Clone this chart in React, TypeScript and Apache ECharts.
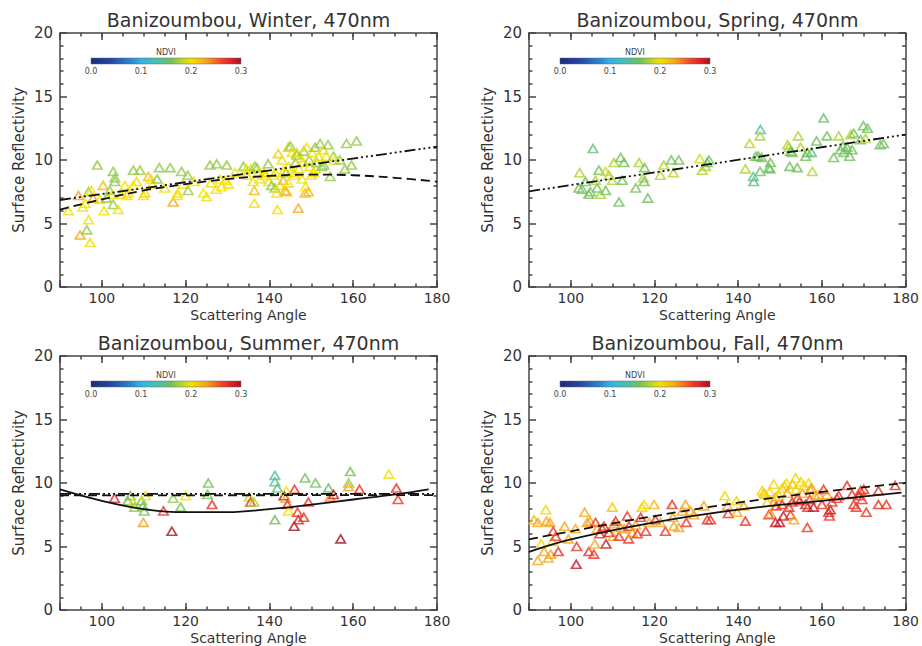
import React, { useEffect, useRef } from 'react';
import * as echarts from 'echarts';

type P = [number, number, number]; // [scattering angle, surface reflectivity, NDVI]
type XY = [number, number];

const seasons = ['Winter', 'Spring', 'Summer', 'Fall'];
const ndviTicks = [0.0, 0.1, 0.2, 0.3];
const xTickStep = 20;

const winterPts: P[] = [
  [92, 6.0, .2], [94.4, 7.2, .23], [94.8, 4.1, .23], [95.4, 6.3, .2], [96.4, 4.5, .17], [96.8, 5.3, .2], [97.2, 3.5, .2],
  [96.8, 7.5, .17], [97.5, 7.6, .2], [97.9, 7.0, .23], [96, 6.6, .2], [98.9, 9.6, .17], [99.5, 6.9, .2], [100.3, 8.0, .22],
  [100.5, 6.0, .2], [101.1, 7.0, .17], [101.9, 7.6, .17], [102.5, 7.3, .2], [102.7, 9.1, .17], [103.1, 8.6, .17], [103.1, 8.3, .17],
  [102.7, 6.5, .17], [103.9, 6.1, .2], [104.7, 7.3, .2], [105.5, 8.0, .2], [105.9, 7.2, .2], [106.3, 7.4, .2], [107.5, 9.2, .17],
  [107.5, 8.0, .2], [108.3, 8.3, .2], [109.1, 9.2, .17], [109.9, 7.2, .2], [110.3, 7.4, .21], [111.1, 8.7, .22], [111.7, 8.5, .2],
  [112, 8.1, .2], [113.2, 8.5, .17], [113.7, 9.4, .17], [115, 7.8, .2], [116.3, 9.4, .17], [117, 6.7, .23], [118.1, 7.4, .2],
  [118, 7.2, .2], [119, 9.1, .17], [119.3, 8.1, .2], [120.5, 8.8, .17], [120.6, 7.6, .17], [122, 8.3, .2], [124.2, 7.4, .2],
  [125, 7.1, .2], [125.8, 9.6, .17], [126, 8.2, .2], [127.3, 7.7, .2], [127.4, 9.7, .17], [128.2, 8.5, .2], [128.5, 7.9, .2],
  [129.5, 8.4, .2], [129.8, 9.6, .17], [130.2, 8.1, .2], [131.8, 9.0, .2], [133.8, 9.5, .17], [134.5, 9.3, .2], [134.6, 8.8, .2],
  [135.5, 9.3, .2], [136.1, 8.3, .2], [136.4, 7.6, .22], [136.4, 6.6, .2], [136.5, 9.5, .17], [137, 9.4, .17], [137.5, 9.1, .2],
  [137.8, 8.5, .2], [138.6, 9.0, .2], [138.9, 9.0, .2], [139, 8.8, .2], [139.7, 9.7, .17], [139.8, 8.3, .2], [140.5, 8.0, .17],
  [141, 8.8, .2], [141.3, 7.8, .17], [141.4, 9.0, .2], [141.7, 7.4, .2], [141.9, 6.1, .2], [142.1, 10.5, .21], [142.5, 8.0, .2],
  [143, 10.0, .2], [143.3, 8.4, .22], [143.5, 9.2, .2], [143.7, 7.6, .22], [144, 9.0, .17], [144.1, 7.5, .22], [144.5, 8.2, .2],
  [144.5, 11.0, .19], [144.6, 9.5, .2], [145, 11.1, .17], [145.4, 10.6, .2], [145.8, 9.0, .2], [146, 8.8, .2], [146.2, 9.8, .17],
  [146.5, 10.6, .2], [146.5, 10.4, .17], [146.9, 6.2, .23], [147, 9.3, .2], [147.4, 10.2, .2], [147.8, 8.5, .2], [148, 9.8, .2],
  [148.2, 10.7, .17], [148.5, 7.4, .22], [148.6, 7.9, .2], [148.9, 11.0, .2], [149.3, 7.5, .22], [149.5, 10.0, .17], [149.6, 9.5, .2],
  [150, 8.8, .2], [150.2, 10.6, .2], [150.6, 9.0, .2], [150.9, 11.0, .17], [151, 9.3, .2], [151.3, 9.8, .17], [151.7, 10.3, .2],
  [152.1, 11.3, .17], [152.5, 9.5, .17], [152.9, 10.8, .2], [153, 9.6, .17], [153.5, 10.3, .2], [154, 11.2, .17], [154.5, 8.7, .17],
  [155.3, 10.3, .17], [155.6, 10.0, .2], [156.8, 10.0, .17], [158, 9.3, .17], [158.4, 11.3, .17], [159.6, 9.6, .17], [160.8, 11.5, .17],
];

const springPts: P[] = [
  [102.1, 9.0, .18], [101.9, 7.8, .16], [102.7, 7.7, .16], [103.5, 8.3, .16], [104.3, 7.3, .16], [104.7, 7.5, .16], [105.3, 10.9, .15],
  [105.9, 8.4, .18], [106.3, 7.8, .16], [106.7, 9.2, .16], [107.1, 7.3, .18], [108.3, 9.1, .19], [108.3, 7.6, .16], [109.1, 8.8, .18],
  [109.9, 8.4, .18], [110.3, 9.8, .18], [111.5, 6.7, .16], [111.9, 10.2, .16], [112.3, 8.4, .16], [112.7, 9.8, .16], [115.5, 7.8, .16],
  [116.3, 9.8, .18], [117.3, 8.6, .18], [117.6, 9.4, .16], [117.5, 8.3, .16], [118.4, 7.0, .16], [121.4, 8.8, .18], [122.2, 9.6, .18],
  [124, 10.0, .16], [124.5, 9.0, .18], [125.8, 10.0, .16], [130.8, 10.1, .19], [131.4, 9.2, .18], [132.2, 9.5, .18], [132.6, 9.8, .16],
  [133, 10.0, .16], [141.7, 9.3, .18], [142.7, 11.3, .18], [143.6, 8.7, .14], [143.7, 8.3, .15], [144.2, 10.3, .16], [144.8, 10.3, .16],
  [145.3, 12.4, .13], [145.2, 11.9, .18], [145.2, 9.1, .16], [145.6, 10.2, .16], [147.3, 9.4, .16], [147.7, 9.8, .16], [147.6, 9.3, .16],
  [151.8, 11.2, .18], [152.1, 11.0, .18], [152.3, 9.5, .16], [152.5, 10.7, .16], [152.9, 10.6, .16], [154.1, 9.4, .16], [154.3, 11.9, .18],
  [154.9, 11.0, .18], [156.1, 10.3, .16], [156.5, 10.6, .16], [157.5, 10.6, .15], [157.7, 9.1, .18], [158.7, 11.5, .16], [160.4, 13.3, .15],
  [161.2, 11.9, .16], [162.8, 10.2, .16], [164, 11.9, .18], [164.4, 10.8, .16], [165, 11.1, .16], [165.2, 10.6, .16], [166, 11.0, .16],
  [166.6, 10.3, .16], [166.9, 12.0, .18], [167.6, 12.1, .16], [167.2, 10.8, .16], [169.2, 11.6, .16], [169.9, 12.7, .16], [170.4, 11.7, .18],
  [170.9, 12.5, .16], [173.9, 11.2, .16], [174.7, 11.3, .16],
];

const summerPts: P[] = [
  [103, 8.8, .28], [106.2, 8.6, .16], [106.8, 9.0, .16], [107.4, 8.5, .2], [107.8, 8.1, .17], [109.5, 8.6, .16], [109.8, 8.2, .16],
  [110.1, 7.8, .16], [109.9, 6.9, .23], [110.4, 9.0, .2], [114.7, 7.8, .27], [116.7, 6.2, .3], [117, 8.8, .17], [118.8, 8.1, .16],
  [120, 9.0, .2], [125.4, 10.0, .16], [125.2, 9.1, .16], [126.3, 8.3, .27], [135.2, 8.9, .19], [135.5, 8.5, .27], [136.3, 8.5, .18],
  [141.3, 7.1, .16], [141.3, 10.6, .14], [141.3, 10.1, .14], [141.9, 9.6, .15], [143.5, 9.0, .3], [144, 9.4, .2], [143.9, 8.8, .23],
  [144.3, 8.3, .27], [144.5, 7.8, .2], [146, 9.5, .27], [145.9, 6.6, .3], [146.7, 7.7, .27], [146.9, 7.1, .28], [148.2, 7.3, .27],
  [148.5, 10.4, .16], [149.3, 8.5, .27], [151, 10.0, .16], [154.1, 9.6, .15], [154.5, 8.9, .24], [155.3, 9.1, .29], [158.9, 10.0, .17],
  [158.9, 9.7, .23], [159.3, 10.9, .16], [161.5, 9.5, .27], [157, 5.6, .3], [168.5, 10.7, .2], [170.3, 9.6, .27], [170.7, 8.7, .27],
];

const fallPts: P[] = [
  [91.2, 7.1, .215], [92.1, 6.9, .23], [92.1, 3.9, .23], [92.9, 5.2, .205], [93.6, 4.6, .23], [94, 7.9, .205], [94.2, 7.0, .23],
  [94.6, 4.1, .23], [95, 6.9, .23], [95.2, 4.4, .23], [95.6, 5.4, .205], [95.8, 6.2, .27], [96.4, 5.8, .27], [97, 4.6, .27],
  [98.5, 6.6, .23], [99.4, 5.6, .23], [101.1, 6.4, .23], [101.4, 5.0, .27], [101.3, 3.6, .29], [103.3, 7.7, .23], [103.9, 6.9, .23],
  [104.6, 7.0, .23], [104.3, 4.6, .27], [105.5, 4.4, .27], [105.7, 5.2, .23], [105.9, 6.9, .27], [106.3, 6.4, .23], [106.9, 6.0, .27],
  [107.5, 6.4, .27], [107.9, 6.6, .27], [108.4, 5.2, .29], [109.1, 6.1, .29], [109.9, 8.1, .215], [110.3, 6.8, .23], [110.1, 5.8, .23],
  [110.7, 7.0, .27], [111.5, 5.8, .27], [111.9, 6.5, .23], [112.7, 6.4, .23], [113.5, 7.4, .27], [113.9, 6.6, .27], [113.8, 5.6, .27],
  [114.7, 6.1, .23], [115.5, 6.7, .23], [115.9, 6.0, .27], [116.7, 7.3, .27], [117, 8.1, .205], [117.5, 8.3, .205], [117.9, 6.2, .27],
  [118.7, 6.9, .23], [119.9, 8.3, .22], [120.2, 7.1, .27], [121.4, 6.9, .23], [122.6, 6.2, .27], [124.2, 8.3, .27], [124.4, 7.3, .23],
  [124.6, 6.6, .23], [125.8, 6.5, .23], [126.6, 7.8, .23], [127.4, 8.3, .23], [127.6, 6.9, .27], [128.6, 7.8, .23], [129.4, 7.5, .23],
  [131.8, 8.2, .23], [132.6, 7.1, .27], [133.4, 7.1, .27], [136.8, 9.0, .205], [137.4, 8.2, .23], [137.6, 7.6, .27], [139.6, 8.6, .205],
  [139.7, 7.7, .23], [141.3, 8.2, .23], [141.7, 7.0, .27], [145.7, 9.4, .205], [146.1, 9.2, .215], [146.5, 9.1, .205], [146.9, 8.5, .205],
  [147.3, 7.5, .27], [147.7, 7.6, .23], [147.5, 9.3, .205], [148.5, 9.9, .205], [148.6, 8.5, .23], [148.9, 6.9, .29], [149.1, 8.2, .27],
  [149, 8.9, .23], [149.7, 9.0, .205], [149.9, 6.9, .29], [150.5, 8.3, .27], [150.5, 9.6, .205], [150.8, 7.4, .29], [151.1, 9.8, .205],
  [151.5, 10.0, .205], [151.7, 9.2, .23], [152.1, 8.1, .27], [152.5, 7.5, .27], [152.9, 8.5, .27], [153, 9.9, .22], [153.3, 7.1, .23],
  [153.7, 10.4, .205], [153.7, 9.5, .205], [154.1, 8.8, .27], [154.7, 8.6, .27], [155, 10.1, .205], [155.3, 9.2, .23], [155.7, 9.8, .205],
  [156.1, 8.3, .29], [156.5, 6.5, .27], [156.6, 8.1, .27], [156.8, 10.0, .205], [157.1, 8.7, .27], [157.2, 9.5, .23], [157.6, 9.6, .23],
  [158, 8.1, .29], [158.4, 9.0, .23], [159.2, 9.1, .23], [160, 8.3, .27], [160.4, 9.5, .27], [161.2, 9.1, .23], [161.6, 7.7, .27],
  [161.8, 7.4, .27], [162, 7.9, .29], [162.4, 8.5, .27], [163.6, 8.8, .27], [164, 9.0, .27], [166, 9.8, .27], [167.2, 9.1, .27],
  [167.6, 8.3, .27], [168.2, 8.1, .27], [168.8, 9.0, .27], [169.2, 9.4, .27], [169.6, 8.7, .27], [170, 9.5, .27], [170.6, 7.7, .27],
  [173.5, 8.3, .27], [173.5, 9.4, .27], [175.4, 8.3, .27], [177.5, 9.8, .27],
];

const winterDashDot: XY[] = [[90, 6.85], [180, 11.05]];
const winterDashed: XY[] = [[90, 6.1], [100, 6.9], [110, 7.6], [120, 8.1], [130, 8.5], [140, 8.75], [150, 8.85], [160, 8.8], [170, 8.6], [180, 8.3]];
const springDashDot: XY[] = [[90, 7.53], [180, 12.0]];
const summerDashDot: XY[] = [[90, 9.15], [180, 9.15]];
const summerDashed: XY[] = [[90, 9.02], [180, 9.05]];
const summerSolid: XY[] = [[90, 9.5], [100, 8.6], [110, 7.95], [120, 7.7], [130, 7.7], [140, 7.95], [150, 8.3], [160, 8.7], [170, 9.1], [178, 9.5]];
const fallDashed: XY[] = [[90, 5.56], [100, 6.2], [120, 7.4], [140, 8.45], [160, 9.3], [180, 10.0]];
const fallSolid: XY[] = [[90, 4.57], [100, 5.56], [120, 6.9], [140, 7.9], [160, 8.6], [179, 9.24]];

const ndviColorStops: [number, string][] = [
  [0.00, '#1b2a7b'], [0.04, '#2546a8'], [0.08, '#2a86d3'], [0.10, '#30b4e6'], [0.13, '#47bfb4'], [0.16, '#72c15a'],
  [0.18, '#b2d332'], [0.20, '#f2e100'], [0.23, '#f8a51b'], [0.26, '#ee4a22'], [0.28, '#e3202a'], [0.30, '#a3141e'],
];

const hexToRgb = (h: string) => [parseInt(h.slice(1, 3), 16), parseInt(h.slice(3, 5), 16), parseInt(h.slice(5, 7), 16)];
function ndviColor(v: number): string {
  const s = ndviColorStops;
  if (v <= s[0][0]) return s[0][1];
  for (let i = 1; i < s.length; i++) {
    if (v <= s[i][0]) {
      const t = (v - s[i - 1][0]) / (s[i][0] - s[i - 1][0]);
      const a = hexToRgb(s[i - 1][1]), b = hexToRgb(s[i][1]);
      const c = a.map((x, k) => Math.round(x + (b[k] - x) * t));
      return `rgb(${c[0]},${c[1]},${c[2]})`;
    }
  }
  return s[s.length - 1][1];
}

const DASH_DOT3 = [11, 3, 2, 3, 2, 3, 2, 3];
const DASH = [9, 5];

const panels = [
  { pts: winterPts, lines: [{ d: winterDashed, dash: DASH, smooth: true }, { d: winterDashDot, dash: DASH_DOT3, smooth: false }] },
  { pts: springPts, lines: [{ d: springDashDot, dash: DASH_DOT3, smooth: false }] },
  { pts: summerPts, lines: [{ d: summerDashed, dash: DASH, smooth: false }, { d: summerDashDot, dash: DASH_DOT3, smooth: false }, { d: summerSolid, dash: 'solid', smooth: true }] },
  { pts: fallPts, lines: [{ d: fallDashed, dash: DASH, smooth: true }, { d: fallSolid, dash: 'solid', smooth: true }] },
];

const FONT = 'DejaVu Sans';
const TXT = '#333';
const AX = '#444';

export default function App() {
  const ref = useRef<HTMLDivElement>(null);
  useEffect(() => {
    if (!ref.current) return;
    const chart = echarts.init(ref.current, null, { renderer: 'svg' });
    const W = 377, H = 254;
    const rects = [{ l: 60, t: 33 }, { l: 529, t: 33 }, { l: 60, t: 356 }, { l: 529, t: 356 }];
    const grid: any[] = [], xAxis: any[] = [], yAxis: any[] = [], series: any[] = [], graphic: any[] = [];
    const lineStyle = { color: AX, width: 1.5 };

    rects.forEach((r, i) => {
      grid.push({ left: r.l, top: r.t, width: W, height: H, containLabel: false });
      const baseX = {
        gridIndex: i, type: 'value', min: 90, max: 180, splitLine: { show: false },
      };
      xAxis.push({
        ...baseX, position: 'bottom',
        axisLine: { show: true, onZero: false, lineStyle },
        axisTick: { show: true, inside: true, length: 7, lineStyle },
        axisLabel: { show: true, fontFamily: FONT, fontSize: 14, color: TXT, margin: 4,
          formatter: (v: number) => (v % xTickStep === 0 ? String(v) : '') },
        name: 'Scattering Angle', nameLocation: 'middle', nameGap: 21,
        nameTextStyle: { fontFamily: FONT, fontSize: 14, color: TXT, verticalAlign: 'top' },
      });
      xAxis.push({
        ...baseX, position: 'bottom', interval: 5,
        axisLine: { show: false, onZero: false },
        axisTick: { show: true, inside: true, length: 3.5, lineStyle },
        axisLabel: { show: false },
      });
      xAxis.push({
        ...baseX, position: 'top',
        axisLine: { show: true, onZero: false, lineStyle },
        axisTick: { show: true, inside: true, length: 7, lineStyle },
        axisLabel: { show: false },
      });
      xAxis.push({
        ...baseX, position: 'top', interval: 5,
        axisLine: { show: false, onZero: false },
        axisTick: { show: true, inside: true, length: 3.5, lineStyle },
        axisLabel: { show: false },
      });
      const baseY = {
        gridIndex: i, type: 'value', min: 0, max: 20, interval: 5, splitLine: { show: false },
        axisLine: { show: true, onZero: false, lineStyle },
        axisTick: { show: true, inside: true, length: 7, lineStyle },
        minorTick: { show: true, splitNumber: 5, length: 3.5, lineStyle },
      };
      yAxis.push({
        ...baseY, position: 'left',
        axisLabel: { show: true, fontFamily: FONT, fontSize: 15, color: TXT, margin: 7 },
        name: 'Surface Reflectivity', nameLocation: 'middle', nameGap: 34,
        nameTextStyle: { fontFamily: FONT, fontSize: 15, color: TXT },
      });
      yAxis.push({ ...baseY, position: 'right', axisLabel: { show: false } });

      const p = panels[i];
      series.push({
        type: 'scatter', xAxisIndex: i * 4, yAxisIndex: i * 2,
        symbol: 'triangle', symbolSize: [9.5, 8], z: 2,
        data: p.pts.map(([x, y, n]) => ({
          value: [x, y],
          itemStyle: { color: 'rgba(0,0,0,0)', borderColor: ndviColor(n), borderWidth: 1.7 },
        })),
      });
      p.lines.forEach((ln) => {
        series.push({
          type: 'line', xAxisIndex: i * 4, yAxisIndex: i * 2, z: 3,
          showSymbol: false, symbol: 'none', smooth: ln.smooth ? 0.4 : false,
          data: ln.d, lineStyle: { color: '#111', width: 1.8, type: ln.dash },
        });
      });

      graphic.push({
        type: 'text', x: r.l + W / 2, y: r.t - 13,
        style: { text: `Banizoumbou, ${seasons[i]}, 470nm`, fill: TXT, fontFamily: FONT, fontSize: 19,
          textAlign: 'center', textVerticalAlign: 'middle', verticalAlign: 'middle' },
      });
      const cbx = r.l + 31, cby = r.t + 25, cbw = 150, cbh = 6;
      graphic.push({
        type: 'rect', z: 10, shape: { x: cbx, y: cby, width: cbw, height: cbh },
        style: {
          fill: new echarts.graphic.LinearGradient(0, 0, 1, 0,
            ndviColorStops.map(([v, c]) => ({ offset: v / 0.3, color: c }))),
          stroke: '#666', lineWidth: 0.5,
        },
      });
      graphic.push({
        type: 'text', z: 10, x: cbx + cbw / 2, y: cby - 6,
        style: { text: 'NDVI', fill: '#444', fontFamily: FONT, fontSize: 8, textAlign: 'center',
          textVerticalAlign: 'middle', verticalAlign: 'middle' },
      });
      ndviTicks.forEach((t) => {
        const tx = cbx + (t / 0.3) * cbw;
        graphic.push({
          type: 'text', z: 10, x: tx, y: cby + cbh + 7,
          style: { text: t.toFixed(1), fill: '#444', fontFamily: FONT, fontSize: 8, textAlign: 'center',
            textVerticalAlign: 'middle', verticalAlign: 'middle' },
        });
      });
    });

    chart.setOption({
      animation: false,
      backgroundColor: '#fff',
      grid, xAxis, yAxis, series, graphic,
    });
    return () => chart.dispose();
  }, []);
  return <div ref={ref} style={{ position: 'absolute', left: 0, top: 0, width: 922, height: 646 }} />;
}
